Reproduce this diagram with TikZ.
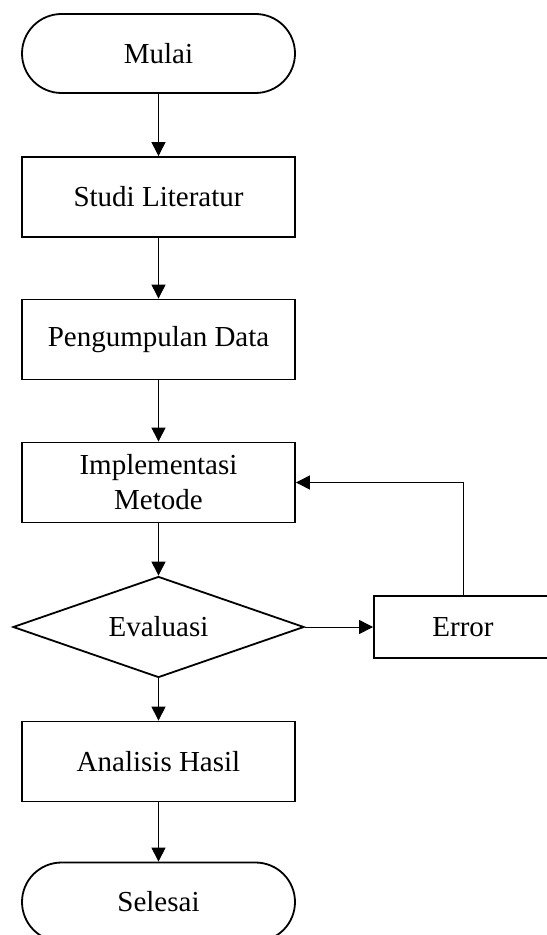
\documentclass[tikz,border=0pt]{standalone}
\usepackage{fontspec}
\setmainfont{Liberation Serif}
\usetikzlibrary{shapes.geometric, arrows.meta}

\begin{document}
\begin{tikzpicture}[x=0.5pt, y=-0.5pt,
        every node/.style={draw, line width=0.9pt, inner sep=2pt, align=center,
            font=\fontsize{14.5}{17.5}\selectfont},
        terminal/.style={rectangle, rounded corners=19.75pt, minimum width=136.5pt, minimum height=39.5pt},
        process/.style={rectangle, minimum width=136.5pt, minimum height=40pt},
        decision/.style={diamond, shape aspect=2.88, minimum width=145.5pt, minimum height=50.5pt, inner sep=0pt},
        >={Triangle[length=7pt, width=7pt]}]
        \useasboundingbox (0, 0) rectangle (546, 935);
        \node[terminal] (mulai) at (158.5, 53.5) {Mulai};
        \node[process] (studi) at (158.5, 197) {Studi Literatur};
        \node[process] (data) at (158.5, 339.5) {Pengumpulan Data};
        \node[process] (impl) at (158.5, 482.5) {Implementasi\\Metode};
        \node[decision] (eval) at (158.5, 627) {Evaluasi};
        \node[process, minimum width=89pt, minimum height=31pt] (error) at (463, 627) {Error};
        \node[process] (analisis) at (158.5, 761.5) {Analisis Hasil};
        \node[terminal] (selesai) at (158.5, 902) {Selesai};
        \draw[->, line width=0.5pt] (mulai) -- (studi);
        \draw[->, line width=0.5pt] (studi) -- (data);
        \draw[->, line width=0.5pt] (data) -- (impl);
        \draw[->, line width=0.5pt] (impl) -- (eval);
        \draw[->, line width=0.5pt] (eval) -- (error);
        \draw[->, line width=0.5pt] (error.north) |- (impl.east);
        \draw[->, line width=0.5pt] (eval) -- (analisis);
        \draw[->, line width=0.5pt] (analisis) -- (selesai);
    \end{tikzpicture}
\end{document}
